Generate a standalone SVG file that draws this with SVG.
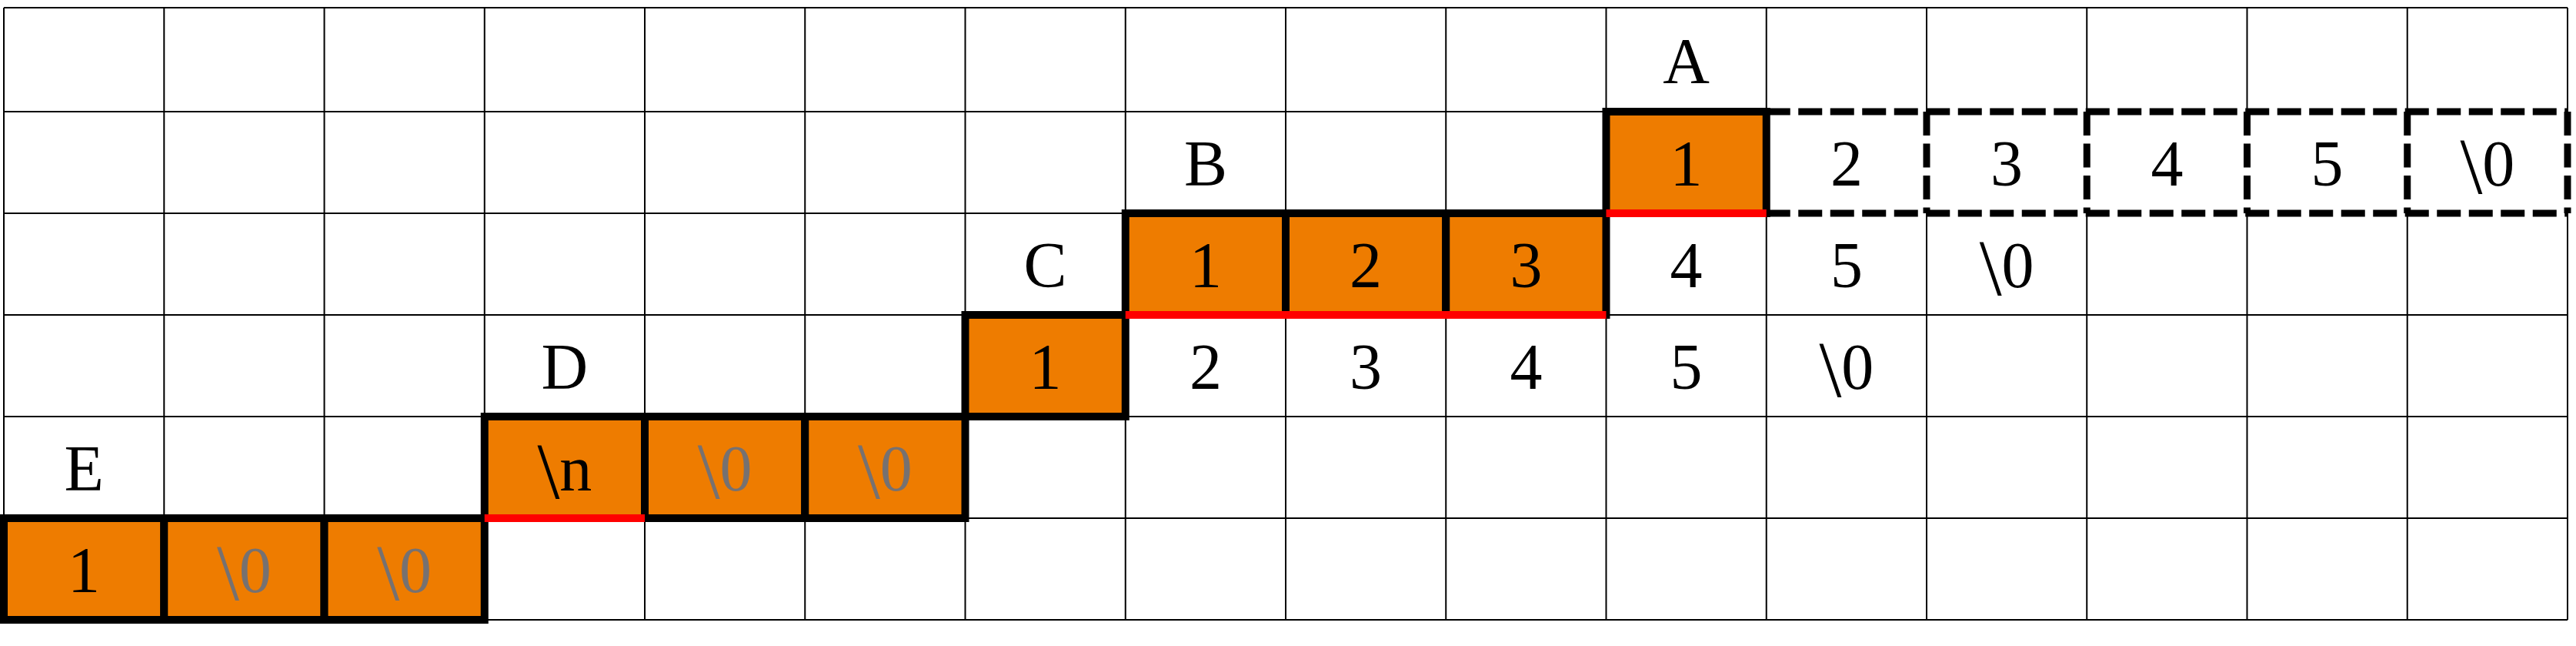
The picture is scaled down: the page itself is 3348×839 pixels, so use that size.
<svg xmlns="http://www.w3.org/2000/svg" width="3348" height="839" viewBox="0 0 3348 839">
<style>
.grid{fill:none;stroke:#000;stroke-width:2}
.dash{fill:none;stroke:#000;stroke-width:9;stroke-dasharray:31 10.5}
.cell{fill:#EE7C00;stroke:#000;stroke-width:10}
.red{stroke:#FF0000;stroke-width:10;fill:none}
.t{font-family:"Liberation Serif","Times New Roman",serif;font-size:84px;text-anchor:middle;fill:#000}
.g{fill:#767171}
.bs{font-size:104px}
</style>
<rect x="0" y="0" width="3348" height="839" fill="#fff"/>
<g id="grid">
<path class="grid" d="M5 10H3337 M5 145H2296 M5 277H2296 M5 409H3337 M5 541H3337 M5 673H3337 M5 805H3337
M5 10V805 M213.25 10V805 M421.5 10V805 M629.75 10V805 M838 10V805 M1046.25 10V805 M1254.5 10V805 M1462.75 10V805 M1671 10V805 M1879.25 10V805 M2087.5 10V805 M2295.75 10V805
M2504 10V145 M2504 277V805 M2712.25 10V145 M2712.25 277V805 M2920.5 10V145 M2920.5 277V805 M3128.75 10V145 M3128.75 277V805 M3337 10V145 M3337 277V805"/>
</g>
<g id="dashed-cells">
<path class="dash" d="M2295.75 145H3337 M2295.75 277H3337"/>
<path class="dash" d="M2504 145V277 M2712.25 145V277 M2920.5 145V277 M3128.75 145V277 M3337 145V277"/>
<text class="t" x="2399.9" y="241">2</text>
<text class="t" x="2608.1" y="241">3</text>
<text class="t" x="2816.4" y="241">4</text>
<text class="t" x="3024.6" y="241">5</text>
<text class="t" x="3232.9" y="241"><tspan class="bs" dy="10">\</tspan><tspan dy="-10">0</tspan></text>
</g>
<g id="node-A">
<text class="t" x="2191.6" y="107.5">A</text>
<rect class="cell" x="2087.5" y="145" width="208.25" height="132"/>
<text class="t" x="2191.6" y="241">1</text>
</g>
<g id="node-B">
<text class="t" x="1566.9" y="241">B</text>
<rect class="cell" x="1462.75" y="277" width="208.25" height="132"/>
<rect class="cell" x="1671" y="277" width="208.25" height="132"/>
<rect class="cell" x="1879.25" y="277" width="208.25" height="132"/>
<text class="t" x="1566.9" y="373">1</text>
<text class="t" x="1775.1" y="373">2</text>
<text class="t" x="1983.4" y="373">3</text>
<text class="t" x="2191.6" y="373">4</text>
<text class="t" x="2399.9" y="373">5</text>
<text class="t" x="2608.1" y="373"><tspan class="bs" dy="10">\</tspan><tspan dy="-10">0</tspan></text>
</g>
<g id="node-C">
<text class="t" x="1358.6" y="373">C</text>
<rect class="cell" x="1254.5" y="409" width="208.25" height="132"/>
<text class="t" x="1358.6" y="505">1</text>
<text class="t" x="1566.9" y="505">2</text>
<text class="t" x="1775.1" y="505">3</text>
<text class="t" x="1983.4" y="505">4</text>
<text class="t" x="2191.6" y="505">5</text>
<text class="t" x="2399.9" y="505"><tspan class="bs" dy="10">\</tspan><tspan dy="-10">0</tspan></text>
</g>
<g id="node-D">
<text class="t" x="733.9" y="505">D</text>
<rect class="cell" x="629.75" y="541" width="208.25" height="132"/>
<rect class="cell" x="838" y="541" width="208.25" height="132"/>
<rect class="cell" x="1046.25" y="541" width="208.25" height="132"/>
<text class="t" x="733.9" y="637"><tspan class="bs" dy="10">\</tspan><tspan dy="-10">n</tspan></text>
<text class="t g" x="942.1" y="637"><tspan class="bs" dy="10">\</tspan><tspan dy="-10">0</tspan></text>
<text class="t g" x="1150.4" y="637"><tspan class="bs" dy="10">\</tspan><tspan dy="-10">0</tspan></text>
</g>
<g id="node-E">
<text class="t" x="109.1" y="637">E</text>
<rect class="cell" x="5" y="673" width="208.25" height="132"/>
<rect class="cell" x="213.25" y="673" width="208.25" height="132"/>
<rect class="cell" x="421.5" y="673" width="208.25" height="132"/>
<text class="t" x="109.1" y="769">1</text>
<text class="t g" x="317.4" y="769"><tspan class="bs" dy="10">\</tspan><tspan dy="-10">0</tspan></text>
<text class="t g" x="525.6" y="769"><tspan class="bs" dy="10">\</tspan><tspan dy="-10">0</tspan></text>
</g>
<g id="connectors">
<path class="red" d="M2087.5 277H2295.75"/>
<path class="red" d="M1462.75 409H2087.5"/>
<path class="red" d="M629.75 673H838"/>
</g>
</svg>
